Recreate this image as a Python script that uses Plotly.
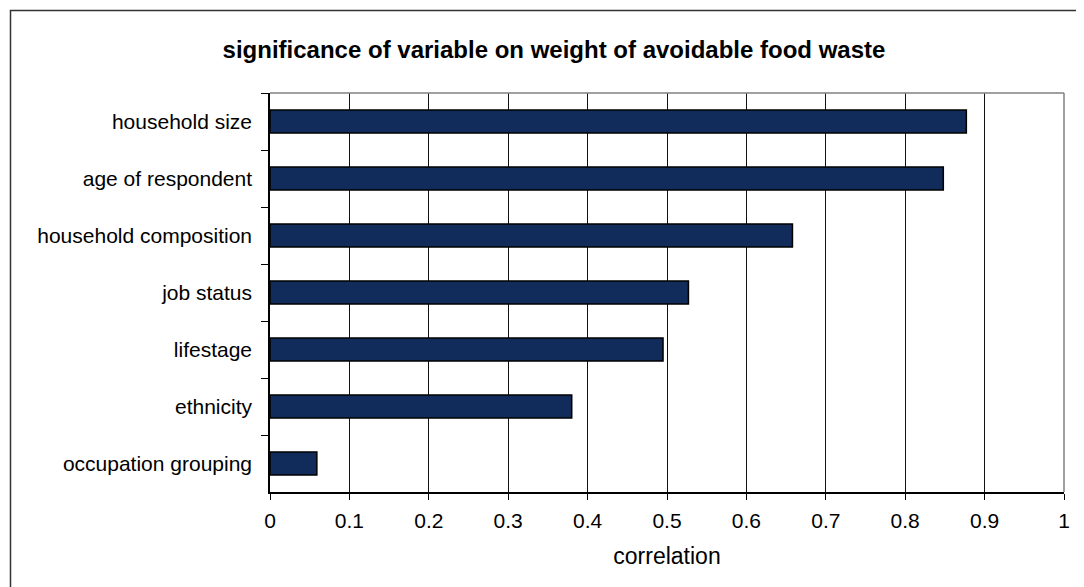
import plotly.graph_objects as go

# variables, listed top to bottom as in the chart
variables = ["household size", "age of respondent", "household composition",
             "job status", "lifestage", "ethnicity", "occupation grouping"]
correlation = [0.877, 0.848, 0.658, 0.527, 0.495, 0.380, 0.059]
x_ticks = [0, 0.1, 0.2, 0.3, 0.4, 0.5, 0.6, 0.7, 0.8, 0.9, 1]
x_tick_text = ["0", "0.1", "0.2", "0.3", "0.4", "0.5", "0.6", "0.7", "0.8", "0.9", "1"]

font = "Liberation Sans, Arial, sans-serif"

# page body has an 8px margin, so the figure is laid out in its own coordinates
W, H = 1076, 579
L, R, T, B = 262, 20, 85, 95
plot_w = W - L - R
plot_h = H - T - B

bars = go.Bar(
    x=correlation,
    y=variables,
    orientation="h",
    width=0.4,
    marker=dict(color="#112B5A", line=dict(color="black", width=1.5)),
)

fig = go.Figure(data=[bars])

fig.update_layout(
    width=W,
    height=H,
    margin=dict(l=L, r=R, t=T, b=B),
    paper_bgcolor="white",
    plot_bgcolor="white",
    showlegend=False,
    font=dict(family=font, size=21, color="black"),
    title=dict(
        text="<b>significance of variable on weight of avoidable food waste</b>",
        font=dict(family=font, size=24, color="black"),
        x=546 / W, xref="container", xanchor="center",
        y=1 - 42 / H, yref="container", yanchor="middle",
    ),
    xaxis=dict(
        range=[0, 1],
        tickvals=x_ticks,
        ticktext=x_tick_text,
        showgrid=True,
        gridcolor="#111111",
        gridwidth=1,
        showline=True,
        linecolor="black",
        linewidth=1.5,
        ticks="outside",
        ticklen=6,
        tickcolor="black",
        ticklabelstandoff=3,
        zeroline=False,
        title=dict(text="correlation", font=dict(size=23), standoff=17),
    ),
    yaxis=dict(
        range=[6.5, -0.5],
        showgrid=False,
        showline=True,
        linecolor="black",
        linewidth=1.5,
        ticks="outside",
        tickson="boundaries",
        ticklen=7,
        tickcolor="black",
        ticklabelstandoff=12,
    ),
    shapes=[
        # grey plot area frame: top and right edges
        dict(type="line", xref="paper", yref="paper", x0=0, x1=1, y0=1, y1=1,
             line=dict(color="#808080", width=1.5)),
        dict(type="line", xref="paper", yref="paper", x0=1, x1=1, y0=0, y1=1,
             line=dict(color="#808080", width=1.5)),
        # outer chart border
        dict(type="rect", xref="paper", yref="paper",
             x0=(2.5 - L) / plot_w, x1=1.2, y0=-0.4, y1=1 + (T - 2.5) / plot_h,
             line=dict(color="#333333", width=1.5)),
    ],
)

fig.write_html("out.html")
